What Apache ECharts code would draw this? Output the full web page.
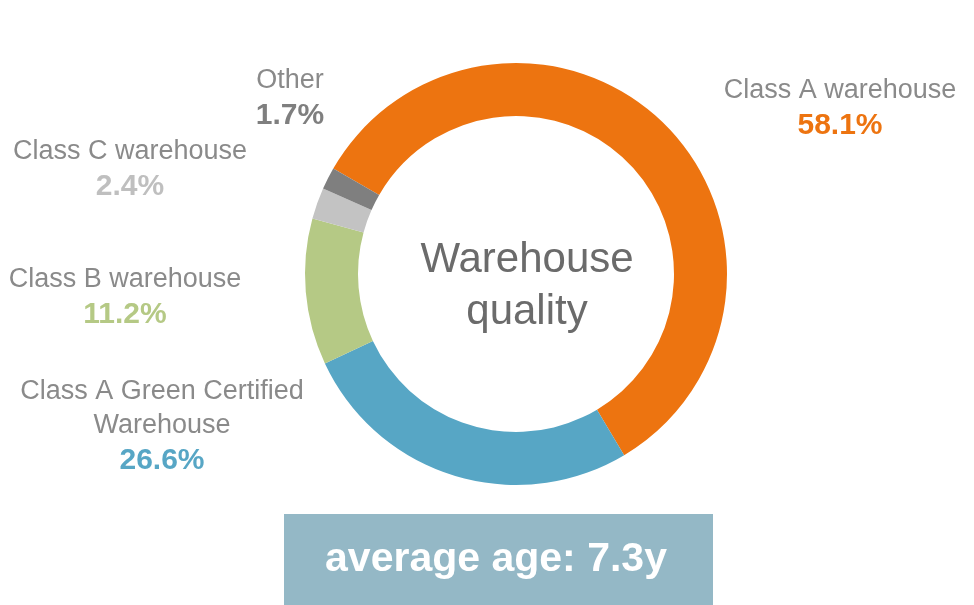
<!DOCTYPE html>
<html>
<head>
<meta charset="utf-8">
<script src="https://cdn.jsdelivr.net/npm/echarts@6/dist/echarts.min.js"></script>
<style>
  html, body { margin: 0; padding: 0; background: #fff; }
  #chart { width: 974px; height: 605px; }
</style>
</head>
<body>
<div id="chart"></div>
<script>
// 数据
const categories = ['Class A warehouse', 'Class A Green Certified\nWarehouse', 'Class B warehouse', 'Class C warehouse', 'Other'];
const shares = [58.1, 26.6, 11.2, 2.4, 1.7];
const sliceColors = ['#ED7410', '#57A6C5', '#B5C985', '#C3C3C3', '#7F7F7F'];
const valueColors = ['#ED7410', '#57A6C5', '#B5C985', '#BFBFBF', '#7F7F7F'];
const centerTitle = 'Warehouse\nquality';
const averageAge = 'average age: 7.3y';

// 标签位置
const labelPos = [[840, 109], [162, 427], [125, 298], [130, 170], [290, 99]];

const chart = echarts.init(document.getElementById('chart'));

const rich = {
    name: { color: '#8A8A8A', fontSize: 27, lineHeight: 34, fontFamily: 'Liberation Sans, Arial, sans-serif' }
};
valueColors.forEach((c, i) => {
    rich['v' + i] = { color: c, fontSize: 30, fontWeight: 'bold', lineHeight: 37, fontFamily: 'Liberation Sans, Arial, sans-serif' };
});

chart.setOption({
    animation: false,
    series: [{
        type: 'pie',
        center: [516, 274],
        radius: [158, 211],
        startAngle: 150,
        emphasis: { disabled: true },
        silent: true,
        labelLine: { show: false },
        label: {
            show: true,
            align: 'center',
            formatter: p => p.name.split('\n').map(s => '{name|' + s + '}').join('\n') +
                '\n{v' + p.dataIndex + '|' + p.value.toFixed(1) + '%}',
            rich: rich
        },
        labelLayout: p => ({
            x: labelPos[p.dataIndex][0],
            y: labelPos[p.dataIndex][1],
            align: 'center',
            verticalAlign: 'middle'
        }),
        data: categories.map((n, i) => ({ name: n, value: shares[i], itemStyle: { color: sliceColors[i] } }))
    }],
    graphic: [
        {
            type: 'text',
            x: 527, y: 286,
            style: {
                text: centerTitle,
                fill: '#6B6B6B',
                font: '42px Liberation Sans, Arial, sans-serif',
                align: 'center',
                verticalAlign: 'middle',
                lineHeight: 52
            }
        },
        {
            type: 'rect',
            shape: { x: 284, y: 514, width: 429, height: 91 },
            style: { fill: '#94B8C6' }
        },
        {
            type: 'text',
            x: 496, y: 560,
            style: {
                text: averageAge,
                fill: '#FFFFFF',
                font: 'bold 41px Liberation Sans, Arial, sans-serif',
                align: 'center',
                verticalAlign: 'middle'
            }
        }
    ]
});

window.addEventListener('resize', () => chart.resize());
</script>
</body>
</html>
